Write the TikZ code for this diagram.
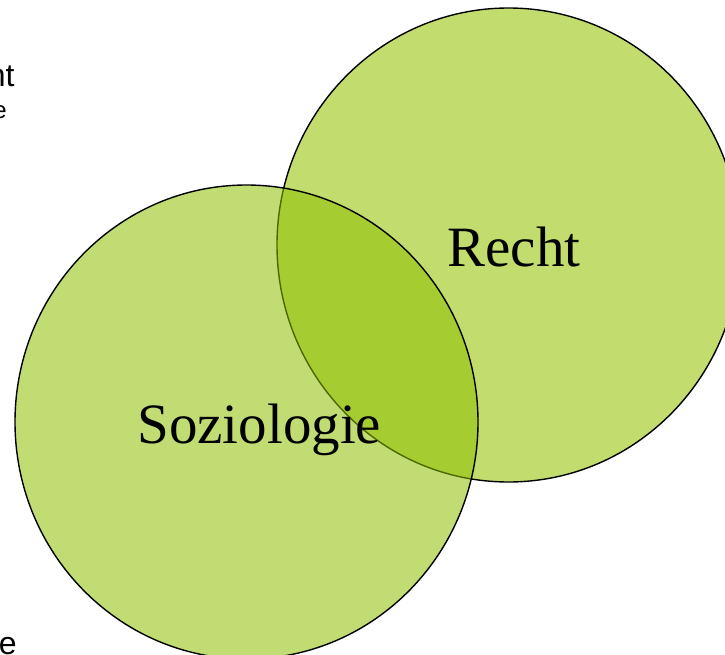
\documentclass[tikz,border=0pt]{standalone}
\usepackage{fontspec}
\setmainfont{Liberation Serif}
\newfontfamily\sansfont{Liberation Sans}
\usetikzlibrary{shapes.geometric}
\definecolor{lightgreen}{HTML}{C2DC6E}
\definecolor{deepgreen}{HTML}{8EBF00}

\begin{document}
\begin{tikzpicture}[x=1pt, y=1pt, thick,
  blob/.style={ellipse, draw=black, line width=1.4pt, inner sep=0pt, outer sep=0pt,
               minimum width=463pt, minimum height=474pt},
  lbl/.style={font=\fontsize{57}{57}\selectfont, inner sep=0pt, anchor=base west},
  cut/.style={font=\sansfont, inner sep=0pt, anchor=base east}]
  \useasboundingbox (0,0) rectangle (725,-655);
  \clip (0,0) rectangle (725,-655);
  \node (R) [blob, fill=lightgreen] at (508.5,-245) {};
  \node (S) [blob, fill=deepgreen, fill opacity=.55] at (246.5,-422) {};
  \node (RR) [lbl] at (447,-266) {Recht};
  \node (SS) [lbl] at (137,-443) {Soziologie};
  \node (A) [cut, font=\sansfont\fontsize{32}{32}\selectfont] at (15,-87) {nt};
  \node (B) [cut, font=\sansfont\fontsize{24}{24}\selectfont] at (7,-119) {e};
  \node (C) [cut, font=\sansfont\fontsize{32}{32}\selectfont] at (17,-654) {e};
\end{tikzpicture}
\end{document}
